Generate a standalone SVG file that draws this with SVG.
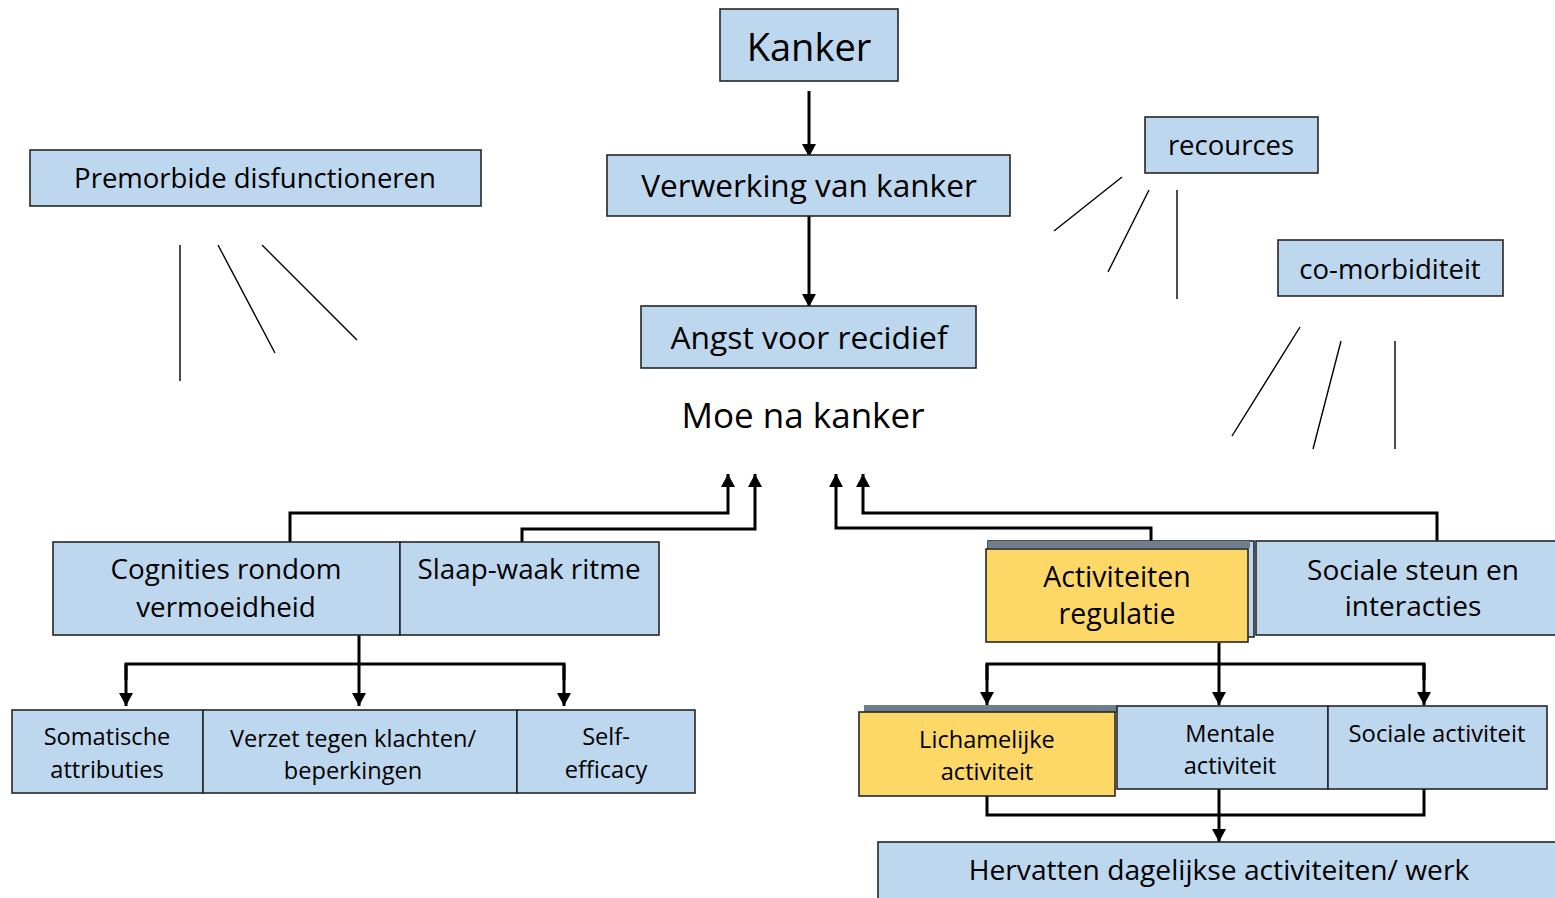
<svg xmlns="http://www.w3.org/2000/svg" width="1555" height="898" viewBox="0 0 1555 898">
  <defs>
    <marker id="arrow" markerUnits="userSpaceOnUse" markerWidth="14" markerHeight="14" viewBox="0 0 14 14" refX="13" refY="7" orient="auto">
      <path d="M0,0 L13,7 L0,14 Z" fill="#000"/>
    </marker>
    <style>
      .box { fill: #bdd7ee; stroke: #262626; stroke-width: 1.6; }
      .hl { fill: #fdd866; stroke: #262626; stroke-width: 1.6; }
      .back { fill: #6f7e8c; }
      .t { font-family: "Open Sans", "Liberation Sans", sans-serif; fill: #000; text-anchor: middle; }
      .flow { fill: none; stroke: #000; stroke-width: 3; }
      .thin { fill: none; stroke: #000; stroke-width: 1.4; }
    </style>
  </defs>
  <rect width="1555" height="898" fill="#fff"/>

  <!-- connectors -->
  <g id="connectors">
    <!-- main chain -->
    <path class="flow" d="M809,91 V157" marker-end="url(#arrow)"/>
    <path class="flow" d="M809,216 V307" marker-end="url(#arrow)"/>
    <!-- left factors up to the center -->
    <path class="flow" d="M290,542 V513 H728 V474" marker-end="url(#arrow)"/>
    <path class="flow" d="M522,542 V529 H755 V474" marker-end="url(#arrow)"/>
    <!-- right factors up to the center -->
    <path class="flow" d="M1151,542 V528 H836 V474" marker-end="url(#arrow)"/>
    <path class="flow" d="M1437,542 V513 H863 V474" marker-end="url(#arrow)"/>
    <!-- cognitions branches -->
    <path class="flow" d="M359,635 V664"/>
    <path class="flow" d="M126,680 V664 H564 V680"/>
    <path class="flow" d="M126,664 V706" marker-end="url(#arrow)"/>
    <path class="flow" d="M359,664 V706" marker-end="url(#arrow)"/>
    <path class="flow" d="M564,664 V706" marker-end="url(#arrow)"/>
    <!-- activity regulation branches -->
    <path class="flow" d="M1219,643 V664"/>
    <path class="flow" d="M987,680 V664 H1424 V680"/>
    <path class="flow" d="M987,664 V705" marker-end="url(#arrow)"/>
    <path class="flow" d="M1219,664 V705" marker-end="url(#arrow)"/>
    <path class="flow" d="M1424,664 V705" marker-end="url(#arrow)"/>
    <!-- activities converge on resuming daily life -->
    <path class="flow" d="M987,796 V815 H1424 V789"/>
    <path class="flow" d="M1219,789 V842" marker-end="url(#arrow)"/>
    <!-- loose strokes -->
    <path class="thin" d="M180,245 V381 M218,245 L275,353 M262,245 L357,340"/>
    <path class="thin" d="M1122,177 L1054,231 M1149,190 L1108,272 M1177,190 V299"/>
    <path class="thin" d="M1300,327 L1232,436 M1341,341 L1313,449 M1395,341 V449"/>
  </g>

  <g id="kanker">
    <rect class="box" x="720" y="9" width="178" height="72"/>
    <text class="t" x="809" y="61" font-size="38">Kanker</text>
  </g>
  <g id="verwerking">
    <rect class="box" x="607" y="155" width="403" height="61"/>
    <text class="t" x="809" y="197" font-size="31.6">Verwerking van kanker</text>
  </g>
  <g id="angst">
    <rect class="box" x="641" y="306" width="335" height="62"/>
    <text class="t" x="809" y="349" font-size="31.8">Angst voor recidief</text>
  </g>
  <g id="moe">
    <text class="t" x="803" y="428" font-size="35">Moe na kanker</text>
  </g>
  <g id="premorbide">
    <rect class="box" x="30" y="150" width="451" height="56"/>
    <text class="t" x="255" y="188" font-size="27.5">Premorbide disfunctioneren</text>
  </g>
  <g id="recources">
    <rect class="box" x="1145" y="117" width="173" height="56"/>
    <text class="t" x="1231" y="155" font-size="27.5">recources</text>
  </g>
  <g id="comorbiditeit">
    <rect class="box" x="1278" y="240" width="225" height="56"/>
    <text class="t" x="1390" y="279" font-size="27.5">co-morbiditeit</text>
  </g>

  <g id="cognities">
    <rect class="box" x="53" y="542" width="347" height="93"/>
    <text class="t" x="226" y="579" font-size="27.8">Cognities rondom</text>
    <text class="t" x="226" y="617" font-size="27.8">vermoeidheid</text>
  </g>
  <g id="slaap">
    <rect class="box" x="400" y="542" width="259" height="93"/>
    <text class="t" x="529" y="579" font-size="27.8">Slaap-waak ritme</text>
  </g>
  <g id="somatische">
    <rect class="box" x="12" y="710" width="191" height="83"/>
    <text class="t" x="107" y="745" font-size="23.6">Somatische</text>
    <text class="t" x="107" y="778" font-size="23.6">attributies</text>
  </g>
  <g id="verzet">
    <rect class="box" x="203" y="710" width="314" height="83"/>
    <text class="t" x="353" y="747" font-size="23.6">Verzet tegen klachten/</text>
    <text class="t" x="353" y="779" font-size="23.6">beperkingen</text>
  </g>
  <g id="selfefficacy">
    <rect class="box" x="517" y="710" width="178" height="83"/>
    <text class="t" x="606" y="745" font-size="23.6">Self-</text>
    <text class="t" x="606" y="778" font-size="23.6">efficacy</text>
  </g>

  <g id="activiteiten">
    <rect class="box" x="988" y="541" width="266" height="96" stroke-width="1"/>
    <rect class="back" x="988" y="541" width="262" height="7"/>
    <rect class="hl" x="986" y="549" width="262" height="93"/>
    <text class="t" x="1117" y="587" font-size="28.5">Activiteiten</text>
    <text class="t" x="1117" y="624" font-size="28.5">regulatie</text>
  </g>
  <g id="socialesteun">
    <rect class="box" x="1256" y="541" width="305" height="94"/>
    <text class="t" x="1413" y="580" font-size="28">Sociale steun en</text>
    <text class="t" x="1413" y="616" font-size="28">interacties</text>
  </g>

  <g id="lichamelijke">
    <rect class="back" x="864" y="705" width="253" height="8"/>
    <rect class="hl" x="859" y="712" width="256" height="84"/>
    <text class="t" x="987" y="748" font-size="23.6">Lichamelijke</text>
    <text class="t" x="987" y="780" font-size="23.6">activiteit</text>
  </g>
  <g id="mentale">
    <rect class="box" x="1117" y="706" width="211" height="83"/>
    <text class="t" x="1230" y="742" font-size="23.6">Mentale</text>
    <text class="t" x="1230" y="774" font-size="23.6">activiteit</text>
  </g>
  <g id="socialeactiviteit">
    <rect class="box" x="1328" y="706" width="219" height="83"/>
    <text class="t" x="1437" y="742" font-size="23.8">Sociale activiteit</text>
  </g>
  <g id="hervatten">
    <rect class="box" x="878" y="842" width="690" height="70"/>
    <text class="t" x="1219" y="880" font-size="28.2">Hervatten dagelijkse activiteiten/ werk</text>
  </g>
</svg>
